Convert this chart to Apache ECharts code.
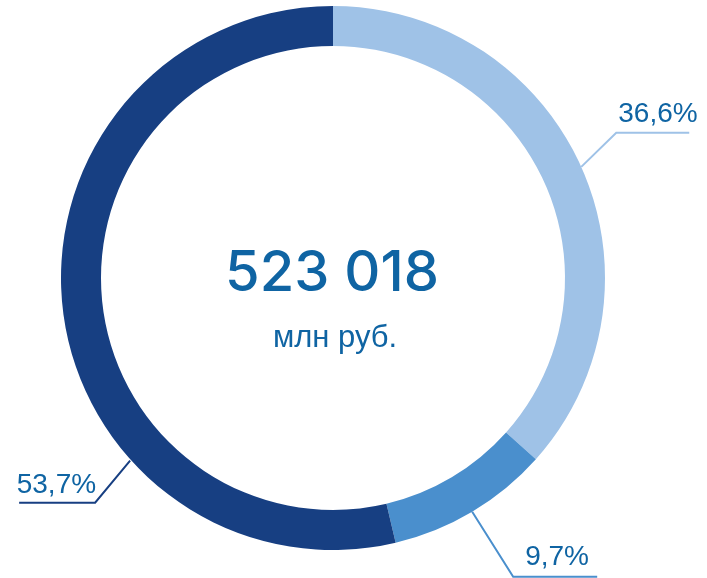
<!DOCTYPE html>
<html><head><meta charset="utf-8">
<script src="https://cdn.jsdelivr.net/npm/echarts@6/dist/echarts.min.js"></script>
<style>html,body{margin:0;padding:0;background:#fff}#c{width:707px;height:578px}</style>
</head><body><div id="c"></div>
<script>
const categories = ['A', 'B', 'C'];
const shares = [36.6, 9.7, 53.7];
const colors = ['#9fc2e7', '#4a8fcd', '#173f82'];
const totalText = '523 018';
const unitText = 'млн руб.';

const chart = echarts.init(document.getElementById('c'));
const CX = 0.471, CY = 0.481, R_IN = 232, R_OUT = 272;

function layout(p) {
  const i = p.dataIndex;
  let s = p.labelLinePoints ? p.labelLinePoints[0].slice() : [0, 0];
  if (i === 2) {
    const a = 228 * Math.PI / 180;
    s = [chart.getWidth() * CX + Math.sin(a) * (R_OUT + 1), chart.getHeight() * CY - Math.cos(a) * (R_OUT + 1)];
  }
  let e, end, lab;
  if (i === 0) { e = [s[0] + 35, s[1] - 34]; end = [e[0] + 73, e[1]]; lab = { x: e[0] + 2, y: e[1] - 5, align: 'left' }; }
  else if (i === 1) { e = [s[0] + 41, s[1] + 65]; end = [e[0] + 84, e[1]]; lab = { x: e[0] + 12, y: e[1] - 5, align: 'left' }; }
  else { e = [s[0] - 35, s[1] + 42]; end = [e[0] - 76, e[1]]; lab = { x: e[0] + 1, y: e[1] - 3, align: 'right' }; }
  return { x: lab.x, y: lab.y, align: lab.align, verticalAlign: 'bottom', labelLinePoints: [s, e, end] };
}

chart.setOption({
  animation: false,
  graphic: [
    { type: 'text', style: { text: totalText, x: 332, y: 274, textAlign: 'center', textVerticalAlign: 'middle', fill: '#0f64a3', font: '500 56px Inter' }, silent: true },
    { type: 'text', style: { text: unitText, x: 335, y: 338, textAlign: 'center', textVerticalAlign: 'middle', fill: '#0f64a3', font: '31px "Liberation Sans"' }, silent: true }
  ],
  series: [{
    type: 'pie',
    center: [CX * 100 + '%', CY * 100 + '%'],
    radius: [R_IN, R_OUT],
    startAngle: 90,
    clockwise: true,
    emphasis: { disabled: true },
    data: categories.map((c, i) => ({ name: c, value: shares[i], itemStyle: { color: colors[i] } })),
    label: {
      show: true, position: 'outside', alignTo: 'none', overflow: 'none', width: 200,
      formatter: p => p.value.toFixed(1).replace('.', ',') + '%',
      color: '#0f64a3', fontSize: 28, fontFamily: '"Liberation Sans", Arial, sans-serif'
    },
    labelLine: { show: true, length: 10, length2: 10, lineStyle: { width: 2 } },
    labelLayout: layout
  }]
});
</script></body></html>
